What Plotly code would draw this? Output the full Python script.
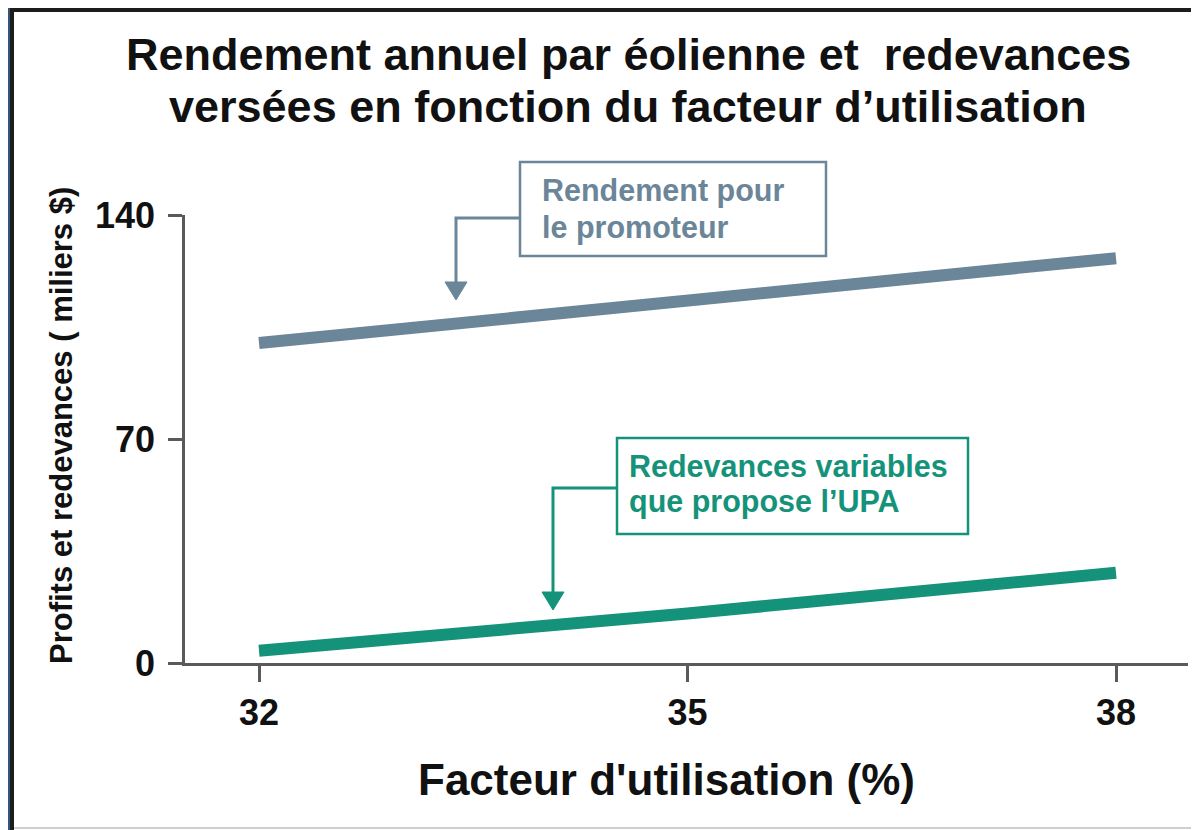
import plotly.graph_objects as go

# ---- data ----
facteur = [32, 35, 38]
rendement_promoteur = [100, 113, 126.5]
redevances_upa = [3.8, 15.5, 28.2]
x_ticks = [32, 35, 38]
y_ticks = [0, 70, 140]

title_l1 = "Rendement annuel par éolienne et  redevances"
title_l2 = "versées en fonction du facteur d’utilisation"
x_title = "Facteur d'utilisation (%)"
y_title = "Profits et redevances ( miliers $)"
lab1 = ["Rendement pour", "le promoteur"]
lab2 = ["Redevances variables", "que propose l’UPA"]

# ---- style ----
W, H = 1199, 830
S = 8  # page offset of the figure inside the browser window
# plot area in screen pixels
L, R, T, B = 185, 1188, 215, 663
PW, PH = R - L, B - T
BLUE_BG = "#34547c"
SLATE = "#6b8599"
TEAL = "#15937a"
AXIS = "#5a5a5a"
FONT = "Liberation Sans, Arial, Helvetica, sans-serif"

def fx(px):
    return (px - L) / PW

def fy(py):
    return (B - py) / PH

fig = go.Figure()
fig.add_trace(go.Scatter(x=facteur, y=rendement_promoteur, mode="lines",
                         line=dict(color=SLATE, width=12), hoverinfo="skip"))
fig.add_trace(go.Scatter(x=facteur, y=redevances_upa, mode="lines",
                         line=dict(color=TEAL, width=12), hoverinfo="skip"))

shapes = []
# white panel
shapes.append(dict(type="rect", xref="paper", yref="paper", layer="below",
                   x0=fx(12), x1=fx(1215), y0=fy(9), y1=fy(845),
                   fillcolor="white", line=dict(width=0)))
shapes.append(dict(type="line", xref="paper", yref="paper", layer="below",
                   x0=fx(12), x1=fx(12), y0=fy(8), y1=fy(845),
                   line=dict(color="#1c1c1c", width=4)))
shapes.append(dict(type="line", xref="paper", yref="paper", layer="below",
                   x0=fx(10), x1=fx(1215), y0=fy(10), y1=fy(10),
                   line=dict(color="#1c1c1c", width=4)))
shapes.append(dict(type="line", xref="paper", yref="paper", layer="below",
                   x0=fx(14), x1=fx(1215), y0=fy(828), y1=fy(828),
                   line=dict(color="#cfcfcf", width=2)))
shapes.append(dict(type="line", xref="paper", yref="paper", layer="below",
                   x0=fx(1196), x1=fx(1196), y0=fy(12), y1=fy(845),
                   line=dict(color="#e2e2e2", width=1)))

def callout(box, corner_y, stem_x, tip_y, color):
    x0, y0, x1, y1 = box
    shapes.append(dict(type="rect", xref="paper", yref="paper",
                       x0=fx(x0), x1=fx(x1), y0=fy(y0), y1=fy(y1),
                       fillcolor="rgba(0,0,0,0)", line=dict(color=color, width=2.5)))
    head = 18
    shapes.append(dict(type="path", xref="paper", yref="paper",
                       path=f"M {fx(x0)},{fy(corner_y)} L {fx(stem_x)},{fy(corner_y)} L {fx(stem_x)},{fy(tip_y - head + 2)}",
                       line=dict(color=color, width=3)))
    shapes.append(dict(type="path", xref="paper", yref="paper",
                       path=(f"M {fx(stem_x - 11)},{fy(tip_y - head)} L {fx(stem_x + 11)},{fy(tip_y - head)} "
                             f"L {fx(stem_x)},{fy(tip_y)} Z"),
                       fillcolor=color, line=dict(color=color, width=1)))

callout((520, 162, 826, 256), 218, 456, 300, SLATE)
callout((617, 438, 968, 534), 488, 553, 610, TEAL)

annotations = []
def text(s, px, py, size, color="#111", xanchor="center", angle=0):
    annotations.append(dict(text=s, xref="paper", yref="paper", x=fx(px), y=fy(py),
                            xanchor=xanchor, yanchor="middle", showarrow=False, textangle=angle,
                            font=dict(family=FONT, size=size, color=color, weight="bold")))

text(title_l1, 628, 55, 45)
text(title_l2, 628, 106, 45)
text(x_title, 666, 779, 44)
text(y_title, 61, 426, 31, angle=-90)
text(lab1[0], 540, 190, 30.5, SLATE, "left")
text(lab1[1], 540, 227, 30.5, SLATE, "left")
text(lab2[0], 627, 466, 30.5, TEAL, "left")
text(lab2[1], 627, 501, 30.5, TEAL, "left")

ppx = 142.83
fig.update_layout(
    width=W, height=H,
    margin=dict(l=L - S, r=W - (R - S), t=T - S, b=H - (B - S), pad=0),
    paper_bgcolor=BLUE_BG, plot_bgcolor="rgba(0,0,0,0)",
    showlegend=False,
    shapes=shapes, annotations=annotations,
    xaxis=dict(range=[32 - (259 - L) / ppx, 38 + (R - 1116) / ppx],
               tickvals=x_ticks, ticktext=[str(v) for v in x_ticks],
               showgrid=False, zeroline=False, showline=True, linecolor=AXIS, linewidth=2.5,
               ticks="outside", ticklen=16, tickwidth=2.5, tickcolor=AXIS,
               tickfont=dict(family=FONT, size=36, color="#111", weight="bold"),
               ticklabelstandoff=0, fixedrange=True),
    yaxis=dict(range=[0, 140], tickvals=y_ticks, ticktext=[str(v) for v in y_ticks],
               showgrid=False, zeroline=False, showline=True, linecolor=AXIS, linewidth=2.5,
               ticks="outside", ticklen=14, tickwidth=2.5, tickcolor=AXIS,
               tickfont=dict(family=FONT, size=36, color="#111", weight="bold"),
               ticklabelstandoff=6, fixedrange=True),
)

fig.write_html("out.html", config={"displayModeBar": False})
